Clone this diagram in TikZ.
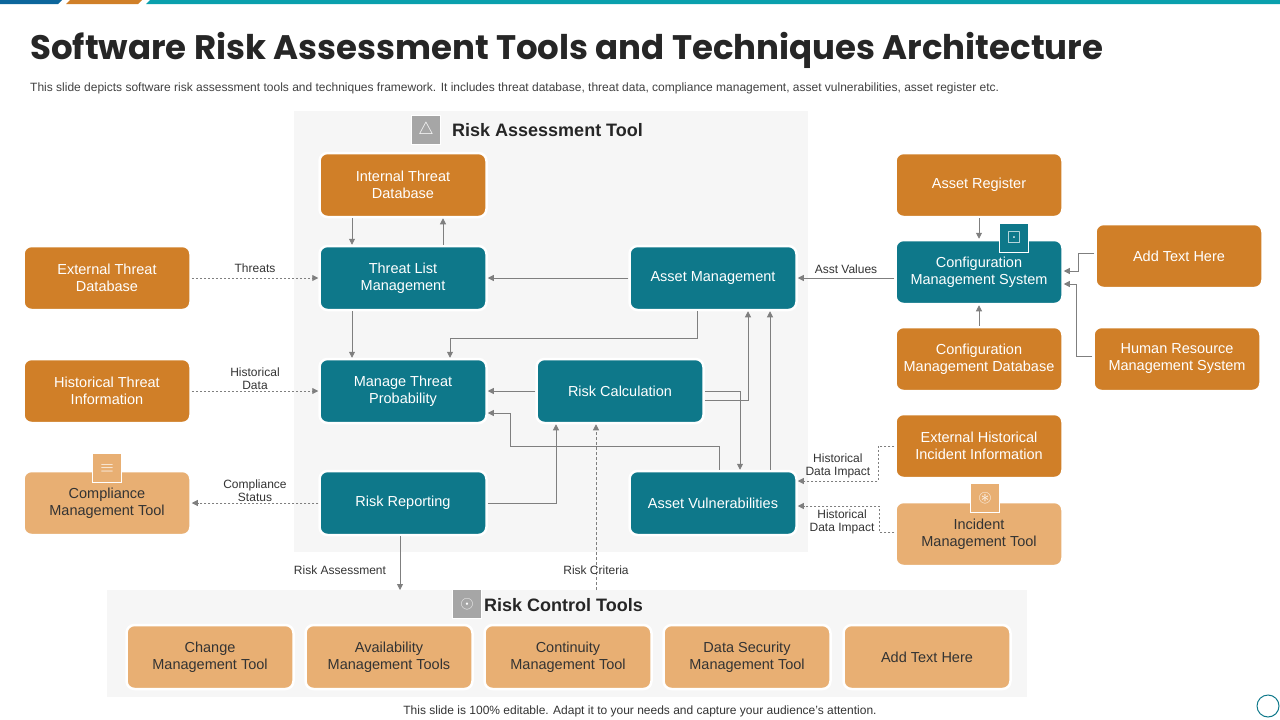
\documentclass[tikz,border=0pt]{standalone}
\usepackage{amssymb}
\usepackage{fontspec}
\setmainfont{Liberation Sans}
\newfontfamily\titlefont{Poppins}
\usetikzlibrary{arrows.meta,positioning}
\definecolor{orng}{HTML}{D07F28}
\definecolor{lorng}{HTML}{E8AF73}
\definecolor{teal}{HTML}{0E788A}
\definecolor{arrowgray}{HTML}{7F7F7F}
\definecolor{panelgray}{HTML}{F6F6F6}
\tikzset{
  box/.style={rounded corners=8pt, minimum width=167pt, minimum height=64pt, align=center,
    text=white, font=\fontsize{14.5}{17}\selectfont, inner sep=2pt,
    draw=white, line width=2.5pt},
  obox/.style={box, fill=orng},
  tbox/.style={box, fill=teal},
  lbox/.style={box, fill=lorng, text=black!80},
  conn/.style={draw=arrowgray, line width=0.8pt, -{Triangle[length=6pt,width=6pt]}},
  dconn/.style={conn, dash pattern={on 2.5pt off 1.5pt}},
  lbl/.style={font=\fontsize{12}{13}\selectfont, text=black!80, align=center, inner sep=1pt},
  icon/.style={minimum size=29pt, inner sep=0pt, draw=white, line width=1pt, text=white, font=\LARGE}
}
\begin{document}
\begin{tikzpicture}[x=1pt,y=-1pt]
\useasboundingbox (0,0) rectangle (1280,720);

% top bar
\fill[teal!85!blue] (0,0) -- (62,0) -- (58,4) -- (0,4) -- cycle;
\fill[orng] (70,0) -- (142,0) -- (138,4) -- (66,4) -- cycle;
\fill[teal!70!cyan] (150,0) -- (1280,0) -- (1280,4) -- (146,4) -- cycle;

% title
\node[anchor=west, inner sep=0pt, font=\titlefont\bfseries\fontsize{34}{38}\selectfont, text=black!85] (title) at (30,50) {Software Risk Assessment Tools and Techniques Architecture};
\node[anchor=west, inner sep=0pt, font=\fontsize{12}{13}\selectfont, text=black!75] (subtitle) at (30,88) {This slide depicts software risk assessment tools and techniques framework. It includes threat database, threat data, compliance management, asset vulnerabilities, asset register etc.};

% panels
\fill[panelgray] (294,111) rectangle (808,552);
\fill[panelgray] (107,590) rectangle (1027,697);
\node[icon, fill=black!35] (raicon) at (426,130) {$\triangle$};
\node[anchor=west, font=\bfseries\fontsize{18}{20}\selectfont, text=black!85, inner sep=0pt] (ratitle) at (452,130) {Risk Assessment Tool};
\node[icon, fill=black!35] (rcicon) at (467,604) {$\odot$};
\node[anchor=west, font=\bfseries\fontsize{18}{20}\selectfont, text=black!85, inner sep=0pt] (rctitle) at (484,605) {Risk Control Tools};

% assessment nodes
\node[obox] (itd) at (403,185) {Internal Threat\\Database};
\node[tbox] (tlm) at (403,278) {Threat List\\Management};
\node[tbox] (mtp) at (403,391) {Manage Threat\\Probability};
\node[tbox] (rr)  at (403,503) {Risk Reporting};
\node[tbox] (am)  at (713,278) {Asset Management};
\node[tbox] (rc)  at (620,391) {Risk Calculation};
\node[tbox] (av)  at (713,503) {Asset Vulnerabilities};

% left nodes
\node[obox] (etd) at (107,278) {External Threat\\Database};
\node[obox] (hti) at (107,391) {Historical Threat\\Information};
\node[lbox] (cmt) at (107,503) {Compliance\\Management Tool};
\node[icon, fill=lorng] (cmticon) at (107,468) {$\equiv$};

% right nodes
\node[obox] (ar)   at (979,185) {Asset Register};
\node[tbox] (cms)  at (979,272) {Configuration\\Management System};
\node[obox] (cmdb) at (979,359) {Configuration\\Management Database};
\node[obox] (add1) at (1179,256) {Add Text Here};
\node[obox] (hrms) at (1177,359) {Human Resource\\Management System};
\node[obox] (ehii) at (979,446) {External Historical\\Incident Information};
\node[lbox] (imt)  at (979,534) {Incident\\Management Tool};
\node[icon, fill=teal] (cmsicon) at (1014,238) {$\boxdot$};
\node[icon, fill=lorng] (imticon) at (985,498) {$\circledast$};

% control tools
\node[lbox] (cht) at (210,657) {Change\\Management Tool};
\node[lbox] (avt) at (389,657) {Availability\\Management Tools};
\node[lbox] (cot) at (568,657) {Continuity\\Management Tool};
\node[lbox] (dst) at (747,657) {Data Security\\Management Tool};
\node[lbox] (add2) at (927,657) {Add Text Here};

% connectors
\draw[conn] (itd.south -| 352,0) -- (tlm.north -| 352,0);
\draw[conn] (tlm.north -| 443,0) -- (itd.south -| 443,0);
\draw[dconn] (etd) -- node[lbl, above=4pt] {Threats} (tlm);
\draw[dconn] (hti) -- node[lbl, above] {Historical\\Data} (mtp);
\draw[dconn] (rr) -- node[lbl, above] {Compliance\\Status} (cmt);
\draw[conn] (am) -- (tlm);
\draw[conn] (tlm.south -| 352,0) -- (mtp.north -| 352,0);
\draw[conn] (am.south -| 697,0) |- (450,338) -- (mtp.north -| 450,0);
\draw[conn] (rc) -- (mtp);
\draw[conn] ([yshift=-9pt]rc.east) -| (am.south -| 748,0);
\draw[conn] (rc.east) -| (av.north -| 740,0);
\draw[conn] (av.north -| 770,0) -- (am.south -| 770,0);
\draw[conn] (av.north -| 719,0) |- (510,446) |- ([yshift=-22pt]mtp.east);
\draw[conn] (rr.east) -| (rc.south -| 556,0);
\coordinate (rcfoot) at (596,590);
\draw[dconn, dash pattern={on 3pt off 2pt}] (rcfoot) -- (rc.south -| rcfoot);
\node[lbl] (rclbl) at (596,570) {Risk Criteria};
\coordinate (rrfoot) at (400,590);
\draw[conn] (rr.south -| rrfoot) -- (rrfoot);
\node[lbl] (ralbl) at (340,570) {Risk Assessment};
\draw[conn] (cms.west |- am) -- node[lbl, above=3pt] {Asst Values} (am);
\draw[conn] (ar) -- (cms);
\draw[conn] (cmdb) -- (cms);
\draw[conn] ([yshift=3pt]add1.west) -| (1078,271) -- (cms.east |- 0,271);
\draw[conn] ([yshift=3pt]hrms.west) -| (1076,284) -- (cms.east |- 0,284);
\draw[dconn] (ehii.west) -| (878,481) -- (av.east |- 0,481) node[lbl, pos=0.5, above=2pt] {Historical\\Data Impact};
\draw[dconn] ([yshift=2pt]imt.west) -| (879,506) -- (av.east |- 0,506);
\node[lbl] (hdi2) at (842,522) {Historical\\Data Impact};

% footer
\node[font=\fontsize{12}{13}\selectfont, text=black!80] (footer) at (640,711) {This slide is 100\% editable. Adapt it to your needs and capture your audience's attention.};
\draw[teal, line width=1pt] (1268,706) circle (11);
\end{tikzpicture}
\end{document}
